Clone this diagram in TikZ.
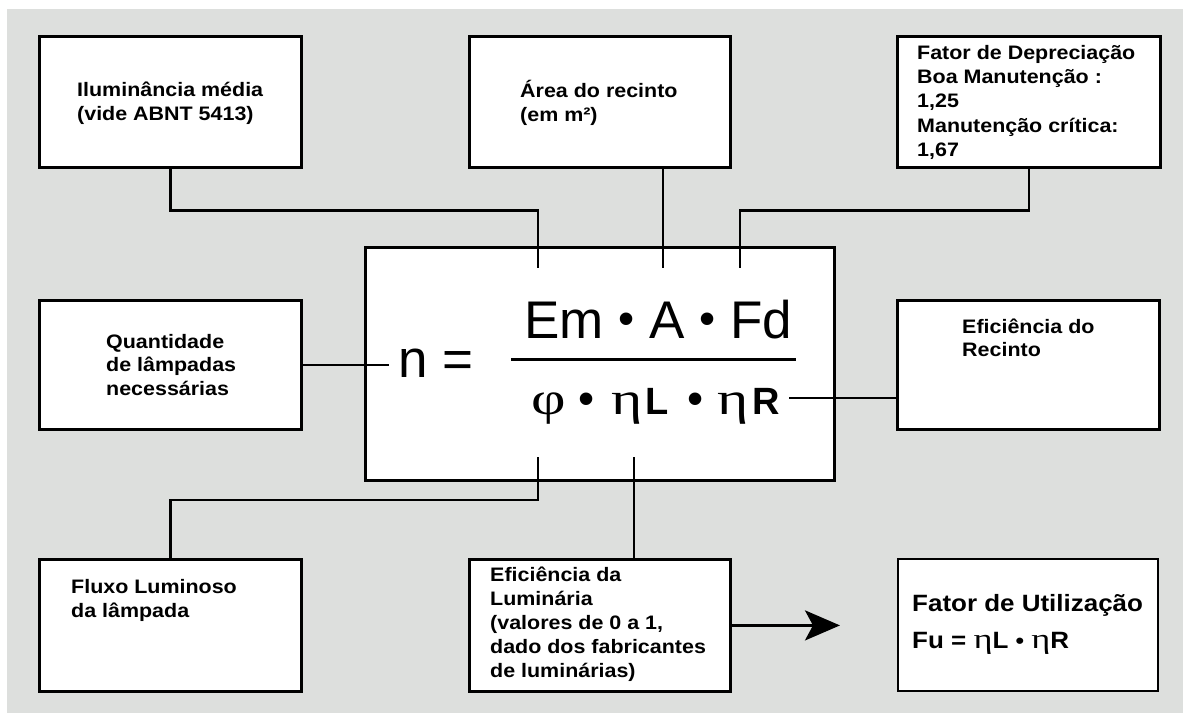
\documentclass[tikz,border=0pt]{standalone}
\usepackage{fontspec}
\setmainfont{Liberation Sans}
\newfontfamily\bx{Liberation Sans}[FakeStretch=1.1]
\newfontfamily\gk{Liberation Serif}[FakeStretch=1.3]
\usetikzlibrary{arrows.meta}
\definecolor{bgc}{RGB}{221,223,221}
\newcommand{\bul}[2]{\raisebox{#2}{\fontsize{#1}{#1}\selectfont •}}
\begin{document}
\begin{tikzpicture}[x=1pt,y=-1pt,
  box/.style={draw=black,line width=2.8pt,fill=white,inner sep=0pt,anchor=north west},
  lbl/.style={anchor=base west,inner sep=0pt,align=left,font=\bx\bfseries\fontsize{19.5}{#1}\selectfont},
  lbl/.default=24.3,
  wire/.style={line width=2.8pt},
  big/.style={anchor=base west,inner sep=0pt,font=\fontsize{53}{53}\selectfont},
  den/.style={anchor=base west,inner sep=0pt,font=\fontsize{38}{38}\selectfont}]
\useasboundingbox (0,0) rectangle (1183,715);
\fill[bgc] (7,9) rectangle (1183,713);
% boxes
\node[box,minimum width=262pt,minimum height=131pt] (ilum) at (38,35) {};
\node[box,minimum width=261pt,minimum height=131pt] (area) at (468,35) {};
\node[box,minimum width=263pt,minimum height=131pt] (fdep) at (896,35) {};
\node[box,minimum width=262pt,minimum height=129pt] (qtd) at (38,299) {};
\node[box,minimum width=469pt,minimum height=233pt] (main) at (364,246) {};
\node[box,minimum width=262pt,minimum height=129pt] (rec) at (896,299) {};
\node[box,minimum width=262pt,minimum height=132pt] (flux) at (38,558) {};
\node[box,minimum width=261pt,minimum height=132pt] (lum) at (468,558) {};
\node[box,line width=1.8pt,minimum width=260pt,minimum height=132pt] (fu) at (897,558) {};
% labels (anchor = baseline of the last line)
\node[lbl] (tilum) at (77,120.3) {Iluminância média\\(vide ABNT 5413)};
\node[lbl] (tarea) at (520,121.3) {Área do recinto\\(em m²)};
\node[lbl=24.4] (tfdep) at (917,156.6) {Fator de Depreciação\\Boa Manutenção :\\1,25\\Manutenção crítica:\\1,67};
\node[lbl=23.5] (tqtd) at (106,395) {Quantidade\\de lâmpadas\\necessárias};
\node[lbl=23.5] (trec) at (962,356.5) {Eficiência do\\Recinto};
\node[lbl=24] (tflux) at (71,617) {Fluxo Luminoso\\da lâmpada};
\node[lbl=24] (tlum) at (490,677) {Eficiência da\\Luminária\\(valores de 0 a 1,\\dado dos fabricantes\\de luminárias)};
\node[anchor=base west,inner sep=0pt,align=left,font=\bx\bfseries\fontsize{23.6}{37}\selectfont] (tfu) at (912,648) {Fator de Utilização\\Fu = {\gk\mdseries\fontsize{28}{28}\selectfont η}L \bul{22}{0pt} {\gk\mdseries\fontsize{28}{28}\selectfont η}R};
% formula
\node[big] (n) at (398,377) {n =};
\node[big] (num) at (524,338) {Em \bul{46}{3.4pt} A \bul{46}{3.4pt} Fd};
\coordinate (fl) at (511,359);
\coordinate (fr) at (796,359);
\draw[line width=3pt] (fl) -- (fr);
\node[den] (dnm) at (531,414) {{\gk\fontsize{46}{46}\selectfont φ}\hspace{13pt}\bul{46}{0pt}\hspace{17pt}{\gk\fontsize{46}{46}\selectfont η}\hspace{2pt}\textbf{L}\hspace{19pt}\bul{46}{0pt}\hspace{14pt}{\gk\fontsize{46}{46}\selectfont η}\hspace{4pt}\textbf{R}};
% connectors
\coordinate (t1) at (538,268);
\coordinate (t2) at (663,268);
\coordinate (t3) at (740,268);
\coordinate (q1) at (389,363);
\coordinate (r1) at (789,398);
\coordinate (b1) at (538,457);
\coordinate (b2) at (634,457);
\coordinate (a1) at (840,623);
\draw[wire] (ilum.south) -- ++(0,42) -| (t1);
\draw[wire] (area.south -| t2) -- (t2);
\draw[wire] (fdep.south) -- ++(0,42) -| (t3);
\draw[wire] (qtd.east) -- (qtd.east -| q1);
\draw[wire] (r1) -- (r1 -| rec.west);
\draw[wire] (b1) -- ++(0,43) -| (flux.north);
\draw[wire] (b2) -- (b2 |- lum.north);
\draw[wire,-{Stealth[length=35pt,width=30pt,inset=8pt]}] (lum.east) -- (lum.east -| a1);
\end{tikzpicture}
\end{document}
